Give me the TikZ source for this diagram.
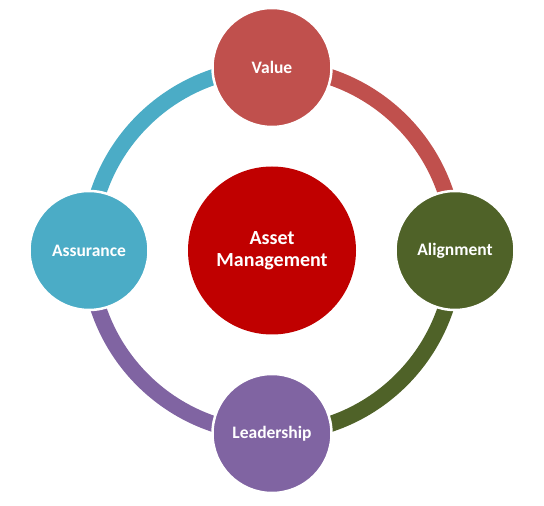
\documentclass[tikz,border=0pt]{standalone}
\usepackage{fontspec}
\setmainfont{Carlito}[BoldFont={Carlito Bold}]
\definecolor{cvalue}{HTML}{C0504D}
\definecolor{calign}{HTML}{4F6228}
\definecolor{clead}{HTML}{8064A2}
\definecolor{cassur}{HTML}{4BACC6}
\definecolor{ccore}{HTML}{C00000}
\begin{document}
\begin{tikzpicture}[x=1pt,y=1pt,
  outer/.style={circle, inner sep=0pt, minimum size=119pt, draw=white, line width=2.5pt,
    text=white, font=\fontsize{17.5}{20}\selectfont\bfseries},
  core/.style={circle, inner sep=0pt, minimum size=168pt, fill=ccore,
    text=white, align=center, font=\fontsize{20}{22}\selectfont\bfseries},
  ring/.style={line width=16pt, line cap=butt}]
\useasboundingbox (0,0) rectangle (544,506);
\node[core] (am) at (272,255.5) {Asset\\Management};
\coordinate (v0) at (272,438.5);
\coordinate (a0) at (455,255.5);
\coordinate (l0) at (272,72.5);
\coordinate (s0) at (89,255.5);
\draw[ring, cvalue] (v0) arc[start angle=90, end angle=0, radius=183];
\draw[ring, calign] (a0) arc[start angle=0, end angle=-90, radius=183];
\draw[ring, clead] (l0) arc[start angle=-90, end angle=-180, radius=183];
\draw[ring, cassur] (s0) arc[start angle=180, end angle=90, radius=183];
\node[outer, fill=cvalue] (v) at (v0) {Value};
\node[outer, fill=calign] (a) at (a0) {Alignment};
\node[outer, fill=clead] (l) at (l0) {Leadership};
\node[outer, fill=cassur] (s) at (s0) {Assurance};
\end{tikzpicture}
\end{document}
